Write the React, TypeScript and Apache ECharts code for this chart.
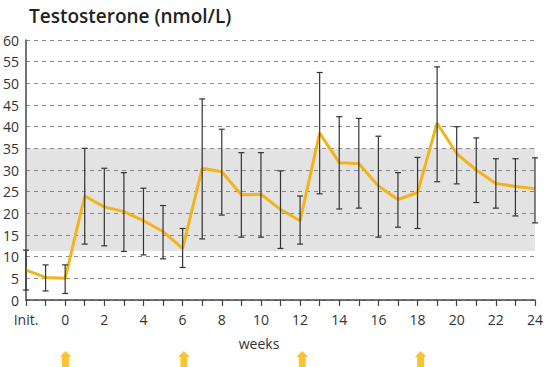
import React, { useEffect, useRef } from "react";
import * as echarts from "echarts";

// x: -2 = "Init.", -1 = pre-dose, 0..24 = weeks
const weeks = [-2, -1, 0, 1, 2, 3, 4, 5, 6, 7, 8, 9, 10, 11, 12, 13, 14, 15, 16, 17, 18, 19, 20, 21, 22, 23, 24];
const meanValues = [6.9, 5.2, 5.0, 24.0, 21.5, 20.4, 18.3, 15.8, 11.9, 30.4, 29.6, 24.3, 24.4, 20.9, 18.3, 38.5, 31.7, 31.5, 26.3, 23.2, 24.8, 40.8, 33.8, 30.0, 26.9, 26.2, 25.7];
const upperValues = [11.5, 8.1, 8.1, 35.0, 30.4, 29.4, 25.8, 21.8, 16.5, 46.4, 39.4, 34.0, 34.0, 29.8, 24.0, 52.5, 42.3, 41.9, 37.8, 29.4, 32.9, 53.8, 40.0, 37.4, 32.6, 32.6, 32.8];
const lowerValues = [2.3, 2.1, 1.5, 12.9, 12.5, 11.2, 10.4, 9.5, 7.5, 14.1, 19.6, 14.5, 14.5, 11.9, 12.9, 24.5, 21.0, 21.2, 14.5, 16.8, 16.5, 27.3, 26.8, 22.5, 21.2, 19.4, 17.8];
const normalRange = [11.3, 35];
const doseWeeks = [0, 6, 12, 18];
const yTicks = { min: 0, max: 60, interval: 5 };

export default function App() {
  const ref = useRef<HTMLDivElement>(null);
  useEffect(() => {
    if (!ref.current) return;
    const chart = echarts.init(ref.current, undefined, { renderer: "svg" });
    const font = "'Open Sans', 'Noto Sans', sans-serif";
    const lineData = weeks.map((w, i) => [w, meanValues[i]]);
    const errData = weeks.map((w, i) => [w, lowerValues[i], upperValues[i]]);
    chart.setOption({
      animation: false,
      backgroundColor: "#ffffff",
      textStyle: { fontFamily: font },
      title: {
        text: "Testosterone (nmol/L)",
        left: 24,
        top: 1,
        textStyle: { fontFamily: font, fontSize: 19, fontWeight: 600, color: "#222" },
      },
      graphic: [
        {
          type: "text",
          x: 259,
          y: 343,
          style: { text: "weeks", fontFamily: font, fontSize: 14, fill: "#333", align: "center", verticalAlign: "middle" },
        },
      ],
      grid: [
        { left: 26, right: 7, top: 40, bottom: 67, containLabel: false },
        { left: 26, right: 7, top: 351, height: 16, containLabel: false },
      ],
      xAxis: [
        {
          type: "value",
          gridIndex: 0,
          min: -2,
          max: 24,
          interval: 1,
          axisLine: { show: true, onZero: false, lineStyle: { color: "#444", width: 1.5 } },
          axisTick: { show: true, length: 6, lineStyle: { color: "#444", width: 1.2 } },
          splitLine: { show: false },
          axisLabel: {
            show: true,
            margin: 12,
            fontFamily: font,
            fontSize: 14,
            color: "#333",
            showMinLabel: true,
            showMaxLabel: true,
            formatter: (v: number) => (v === -2 ? "Init." : v >= 0 && v % 2 === 0 ? String(v) : ""),
          },
        },
        {
          type: "value",
          gridIndex: 1,
          min: -2,
          max: 24,
          show: false,
        },
      ],
      yAxis: [
        {
          type: "value",
          gridIndex: 0,
          min: yTicks.min,
          max: yTicks.max,
          interval: yTicks.interval,
          axisLine: { show: true, onZero: false, lineStyle: { color: "#444", width: 1.5 } },
          axisTick: { show: false },
          axisLabel: { margin: 7, fontFamily: font, fontSize: 14, color: "#333" },
          splitLine: { show: true, lineStyle: { color: "#8a8a8a", type: [4, 4], width: 1 } },
        },
        { type: "value", gridIndex: 1, min: 0, max: 1, show: false },
      ],
      series: [
        {
          type: "line",
          xAxisIndex: 0,
          yAxisIndex: 0,
          data: [],
          z: -1,
          markArea: {
            silent: true,
            itemStyle: { color: "rgba(128,128,128,0.22)" },
            data: [[{ yAxis: normalRange[0] }, { yAxis: normalRange[1] }]],
          },
        },
        {
          type: "line",
          xAxisIndex: 0,
          yAxisIndex: 0,
          data: lineData,
          showSymbol: false,
          symbol: "none",
          lineStyle: { color: "#f2b41a", width: 3 },
          z: 3,
        },
        {
          type: "custom",
          xAxisIndex: 0,
          yAxisIndex: 0,
          data: errData,
          z: 4,
          renderItem: (params: any, api: any) => {
            const x = api.value(0);
            const lo = api.coord([x, api.value(1)]);
            const hi = api.coord([x, api.value(2)]);
            const hw = 3;
            const style = { stroke: "#333", lineWidth: 1.2 };
            return {
              type: "group",
              children: [
                { type: "line", shape: { x1: lo[0], y1: lo[1], x2: hi[0], y2: hi[1] }, style },
                { type: "line", shape: { x1: lo[0] - hw, y1: lo[1], x2: lo[0] + hw, y2: lo[1] }, style },
                { type: "line", shape: { x1: hi[0] - hw, y1: hi[1], x2: hi[0] + hw, y2: hi[1] }, style },
              ],
            };
          },
        },
        {
          type: "scatter",
          xAxisIndex: 1,
          yAxisIndex: 1,
          data: doseWeeks.map((w) => [w, 0.5]),
          symbol: "path://M6,0 L12,6 L9.5,6 L9.5,16 L2.5,16 L2.5,6 L0,6 Z",
          symbolSize: [12, 16],
          itemStyle: { color: "#f7b500" },
        },
      ],
    });
    return () => chart.dispose();
  }, []);
  return <div ref={ref} style={{ width: 546, height: 367, position: "absolute", left: 0, top: 0 }} />;
}
